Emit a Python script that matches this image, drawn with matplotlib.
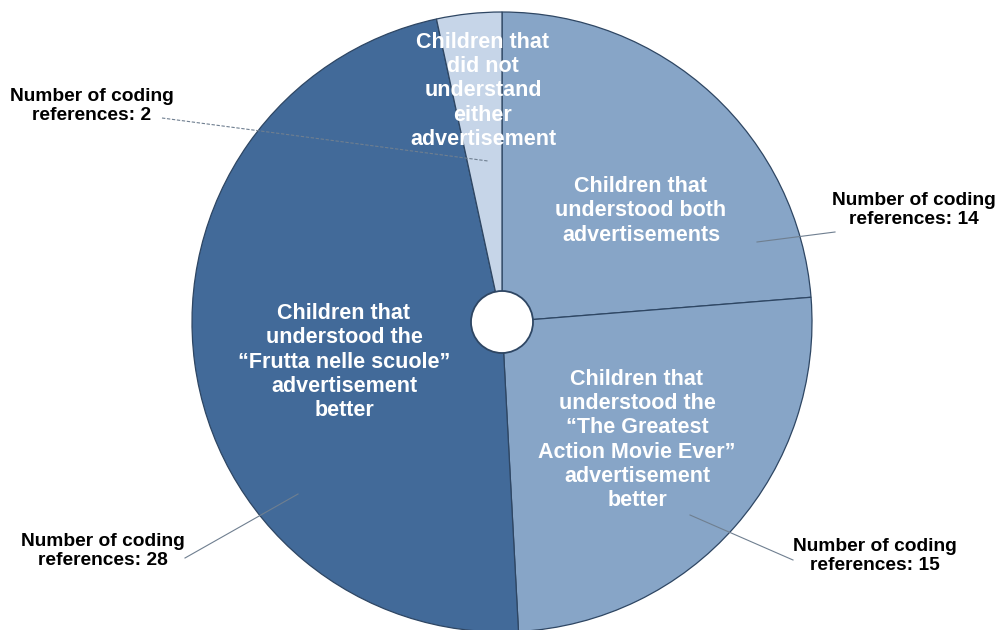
import matplotlib
matplotlib.use("Agg")
import matplotlib.pyplot as plt
from matplotlib.patches import Circle

plt.rcParams['font.family'] = ['Liberation Sans', 'DejaVu Sans']

# Coding references per group of children
categories = [
    "Children that\nunderstood both\nadvertisements",
    "Children that\nunderstood the\n\u201cThe Greatest\nAction Movie Ever\u201d\nadvertisement\nbetter",
    "Children that\nunderstood the\n\u201cFrutta nelle scuole\u201d\nadvertisement\nbetter",
    "Children that\ndid not\nunderstand\neither\nadvertisement",
]
references = [14, 15, 28, 2]
colors = ["#87a5c7", "#87a5c7", "#426a99", "#c6d5e8"]

W, H = 1002, 630
fig = plt.figure(figsize=(W / 100, H / 100), dpi=100)
ax = fig.add_axes([0, 0, 1, 1])


def Y(py):
    return H - py


cx, cy, R = 502, Y(322), 310
ax.pie(references, colors=colors, startangle=90, counterclock=False,
       center=(cx, cy), radius=R,
       wedgeprops=dict(edgecolor="#2e4663", linewidth=0.9))
ax.add_patch(Circle((cx, cy), 31, facecolor="white", edgecolor="#2e4663",
                    linewidth=1.3, zorder=5))

# category labels inside the wedges
label_pos = [(641, 211), (637, 440), (344, 362), (483, 91)]
for text, (px, py) in zip(categories, label_pos):
    ax.text(px, Y(py), text, ha="center", va="center", color="white",
            fontsize=15.5, fontweight="bold", linespacing=1.2, zorder=6)

# callouts with the number of coding references
callout_pos = [(914, 210), (875, 556), (103, 551), (92, 106)]
leader = [((835, 232), (757, 242)), ((793, 560), (690, 515)),
          ((185, 558), (298, 494)), ((162, 118), (488, 161))]
for v, (px, py), ((x0, y0), (x1, y1)) in zip(references, callout_pos, leader):
    ax.text(px, Y(py), f"Number of coding\nreferences: {v}", ha="center",
            va="center", color="black", fontsize=13.8, fontweight="bold",
            linespacing=1.22, zorder=6)
    ls = (0, (3, 1.5)) if v == 2 else "-"
    ax.plot([x0, x1], [Y(y0), Y(y1)], color="#6f7f90", linewidth=0.8,
            linestyle=ls, zorder=4)

ax.set_xlim(0, W)
ax.set_ylim(0, H)
ax.set_aspect("equal")
ax.axis("off")
fig.savefig("out.png", dpi=100, facecolor="white")
